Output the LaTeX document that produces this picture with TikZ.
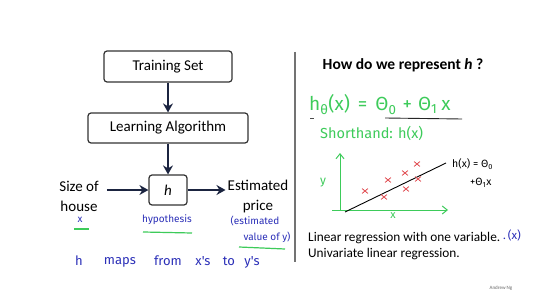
\documentclass[tikz,border=0pt]{standalone}
\usepackage{fontspec}
\setmainfont{Carlito}
\newfontfamily\hand{Fira Sans}
\usetikzlibrary{arrows.meta,shapes.misc}
\definecolor{navy}{HTML}{1B2440}
\definecolor{penblue}{HTML}{2B2FB8}
\definecolor{pengreen}{HTML}{3DCB5A}
\definecolor{penred}{HTML}{E0454A}
\begin{document}
\begin{tikzpicture}[x=1pt,y=-1pt,
  box/.style={draw=black!80, line width=1.2pt, rounded corners=3pt, font=\fontsize{15}{16}\selectfont, inner sep=0pt},
  arr/.style={draw=navy, line width=2.2pt, -{Stealth[length=9pt,width=10pt,inset=3pt]}},
  lbl/.style={font=\fontsize{15}{20}\selectfont, align=center, inner sep=0pt},
  bluepen/.style={text=penblue, font=\hand\fontsize{10}{12}\selectfont, inner sep=0pt},
  greenline/.style={draw=pengreen, line width=1.2pt},
  greenpen/.style={text=pengreen, font=\hand\fontsize{15}{18}\selectfont, inner sep=0pt},
  axis/.style={draw=pengreen, line width=1pt, -{Straight Barb[length=5pt,width=8pt]}},
  redx/.style={draw=penred, cross out, line width=0.8pt, minimum width=5pt, minimum height=4pt, inner sep=0pt},
  body/.style={font=\fontsize{13.3}{14}\selectfont, anchor=west, inner sep=0pt}
]
\useasboundingbox[fill=white] (0,0) rectangle (551,302);

% left diagram
\node[box, minimum width=128pt, minimum height=31pt] (ts) at (168,66.5) {Training Set};
\node[box, minimum width=160pt, minimum height=30pt] (la) at (168,128) {Learning Algorithm};
\node[box, minimum width=38pt, minimum height=30pt] (h) at (168,190) {\itshape h};
\draw[arr] (ts) -- (la);
\draw[arr] (la) -- (h);
\node[lbl] (size) at (79,196) {Size of\\house};
\node[lbl] (est) at (258,196) {Estimated\\price};
\draw[arr] ([xshift=8pt]size.east |- h.west) -- (h.west);
\draw[arr] (h.east) -- ([xshift=-2pt]est.west |- h.east);

% divider
\coordinate (dtop) at (295,52);
\coordinate (dbot) at (295,262);
\draw[draw=black!55, line width=1.4pt] (dtop) -- (dbot);

% handwriting left
\node[bluepen] (hx) at (80,220) {x};
\coordinate (u1a) at (74,229); \coordinate (u1b) at (89,229);
\draw[greenline] (u1a) -- (u1b);
\node[bluepen] (hyp) at (167,220) {hypothesis};
\coordinate (u2a) at (143,232); \coordinate (u2b) at (192,233);
\draw[greenline] (u2a) -- (u2b);
\node[bluepen] (estv) at (255,221) {(estimated};
\node[bluepen] (valy) at (267,237) {value of y)};
\coordinate (u3a) at (239,247); \coordinate (u3b) at (285,249);
\draw[greenline] (u3a) -- (u3b);
\begin{scope}[every node/.style={bluepen, font=\hand\fontsize{13}{14}\selectfont}]
\node (w1) at (79,261) {h};
\node (w2) at (120,262) {maps};
\node (w3) at (168,261) {from};
\node (w4) at (203,261) {x's};
\node (w5) at (229,261) {to};
\node (w6) at (252,262) {y's};
\end{scope}

% right panel
\node[font=\bfseries\fontsize{15.5}{16}\selectfont, inner sep=0pt] (title) at (403,65) {How do we represent \textit{h} ?};
\node[greenpen, font=\hand\fontsize{19}{20}\selectfont, anchor=west] (formula) at (309,105) {h\textsubscript{θ}(x)\hspace{8pt}=\hspace{8pt}Θ\textsubscript{0}\hspace{6pt}+\hspace{6pt}Θ\textsubscript{1}\hspace{4pt}x};
\coordinate (ula) at (385,118); \coordinate (ulb) at (462,119);
\draw[black!85, line width=0.9pt] (ula) -- (ulb);
\coordinate (dsa) at (310,118); \coordinate (dsb) at (314,118);
\draw[black!70, line width=0.8pt] (dsa) -- (dsb);
\node[greenpen, font=\hand\fontsize{14.5}{16}\selectfont, anchor=west] (short) at (320,133) {Shorthand: h(x)};

% plot
\coordinate (o) at (340,210);
\coordinate (ytop) at (340,153);
\coordinate (xl) at (332,210);
\coordinate (xr) at (448,210);
\draw[axis] (o) -- (ytop);
\draw[axis] (xl) -- (xr);
\node[greenpen, font=\hand\fontsize{12}{14}\selectfont] (ylab) at (323,183) {y};
\node[greenpen, font=\hand\fontsize{11}{14}\selectfont] (xlab) at (393,216) {x};
\coordinate (la1) at (345,212);
\coordinate (la2) at (446,163);
\draw[black, line width=0.9pt] (la1) -- (la2);
\node[redx] (c1) at (365,191) {};
\node[redx] (c2) at (384,197) {};
\node[redx] (c3) at (388,180) {};
\node[redx] (c4) at (405,173) {};
\node[redx] (c5) at (406,189) {};
\node[redx] (c6) at (418,179) {};
\node[redx] (c7) at (417,164) {};
\node[font=\hand\fontsize{10.5}{12}\selectfont, anchor=west, inner sep=0pt] (hx1) at (452,164) {h(x) = Θ\textsubscript{0}};
\node[font=\hand\fontsize{10.5}{12}\selectfont, anchor=west, inner sep=0pt] (hx2) at (470,183) {+Θ\textsubscript{1}x};

% text
\node[body] (lr1) at (308,238) {Linear regression with one variable.};
\node[bluepen, font=\hand\fontsize{11.5}{12}\selectfont, anchor=west] (xx) at (503,235) {.\,(x)};
\node[body] (lr2) at (308,254) {Univariate linear regression.};
\node[font=\fontsize{5}{6}\selectfont, text=black!60, inner sep=0pt] (ng) at (501,288) {Andrew Ng};
\end{tikzpicture}
\end{document}
